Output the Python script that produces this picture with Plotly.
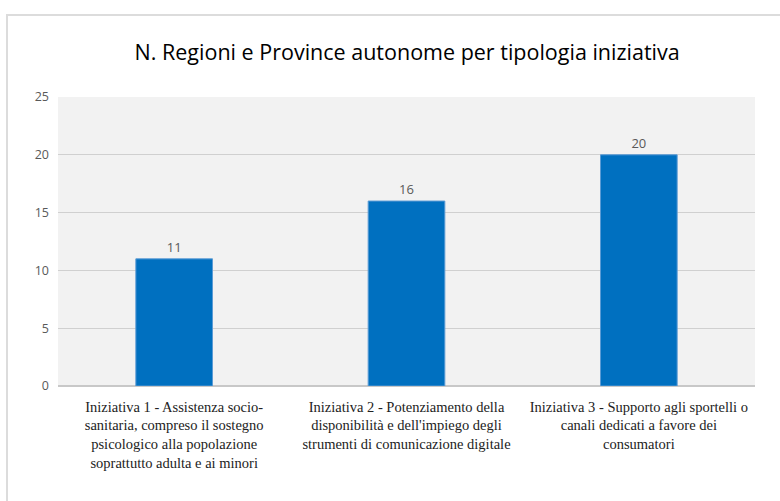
import plotly.graph_objects as go

categories = [
    "Iniziativa 1 - Assistenza socio-<br>sanitaria, compreso il sostegno<br>psicologico alla popolazione<br>soprattutto adulta e ai minori",
    "Iniziativa 2 - Potenziamento della<br>disponibilità e dell'impiego degli<br>strumenti di comunicazione digitale",
    "Iniziativa 3 - Supporto agli sportelli o<br>canali dedicati a favore dei<br>consumatori",
]
values = [11, 16, 20]
y_ticks = [0, 5, 10, 15, 20, 25]
title = "N. Regioni e Province autonome per tipologia iniziativa"

W, H = 780, 501
L, R, T, B = 58, 25, 97, 115
pw, ph = W - L - R, H - T - B

def px_x(x):
    return (x - L) / pw

def px_y(y):
    return (H - B - y) / ph

fig = go.Figure(go.Bar(
    x=categories, y=values,
    marker=dict(color="#0070c0", line=dict(color="#5b9bd5", width=1)),
    text=[str(v) for v in values], textposition="outside",
    textfont=dict(family="Open Sans, Calibri, sans-serif", size=13, color="#595959"),
    cliponaxis=False,
))

fig.update_layout(
    width=W, height=H,
    margin=dict(l=L, r=R, t=T, b=B),
    paper_bgcolor="white", plot_bgcolor="#f2f2f2",
    bargap=0.67,
    showlegend=False,
    title=dict(text=title, x=0.522, xanchor="center", y=1 - 52 / H, yanchor="middle",
               font=dict(family="Open Sans, Calibri, sans-serif", size=21.5, color="#000000")),
    xaxis=dict(tickfont=dict(family="Liberation Serif, Times New Roman, serif", size=14.5, color="#222222"),
               showgrid=False, showline=False, ticks="", tickangle=0,
               ticklabelstandoff=10),
    yaxis=dict(range=[0, 25], tickvals=y_ticks, gridcolor="#d0d0d0", gridwidth=1,
               zeroline=True, zerolinecolor="#c8c8c8",
               tickfont=dict(family="Open Sans, Calibri, sans-serif", size=12.5, color="#595959"),
               ticklabelstandoff=8),
    shapes=[dict(type="rect", xref="paper", yref="paper",
                 x0=px_x(7), x1=px_x(800), y0=px_y(520), y1=px_y(15),
                 line=dict(color="#dcdcdc", width=2), fillcolor="rgba(0,0,0,0)", layer="below")],
)

fig.write_html("out.html", config={"displayModeBar": False},
               post_script="document.body.style.margin='0px';")
